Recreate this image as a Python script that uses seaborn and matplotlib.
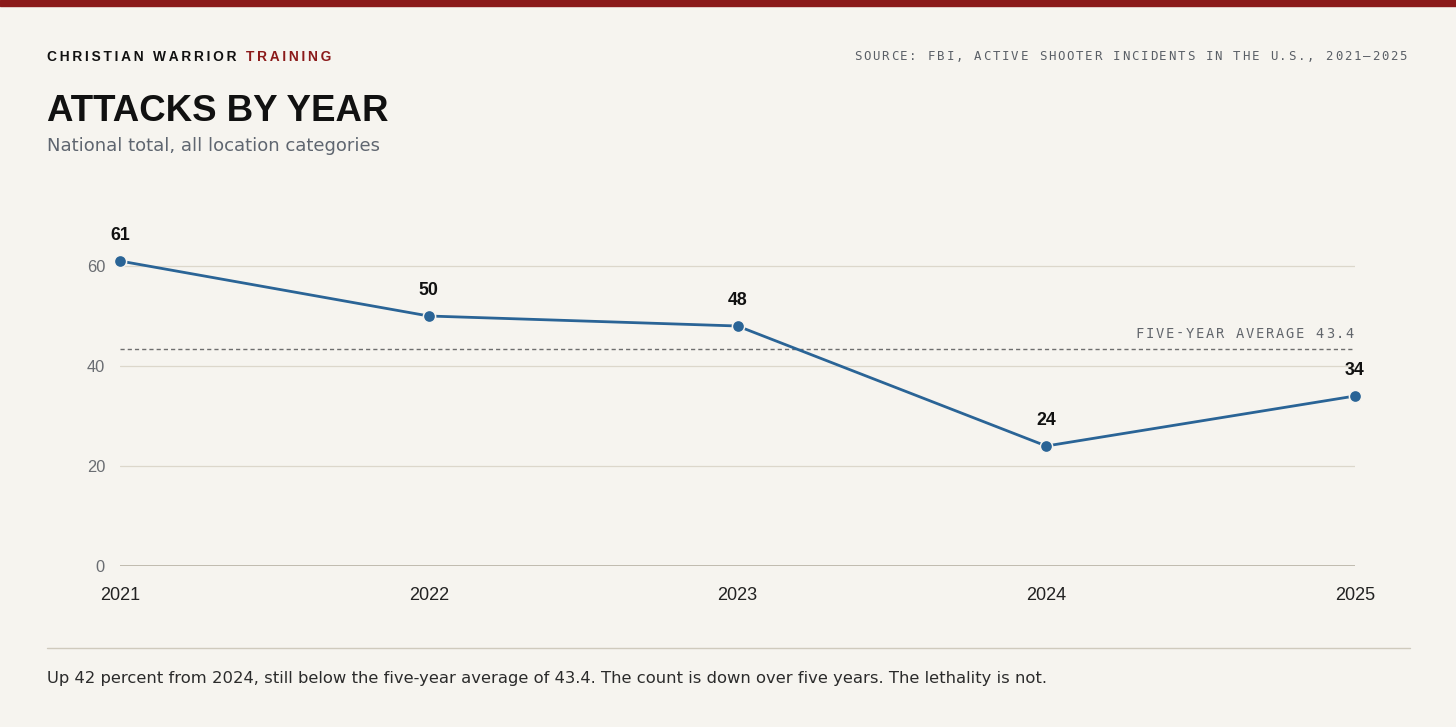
import matplotlib
matplotlib.use('Agg')
import matplotlib.pyplot as plt
import seaborn as sns
import pandas as pd
from matplotlib.transforms import IdentityTransform
from matplotlib.lines import Line2D
from matplotlib.patches import Rectangle
from matplotlib import font_manager
from matplotlib.ft2font import FT2Font

# ---- data ----
years = [2021, 2022, 2023, 2024, 2025]
attacks = [61, 50, 48, 24, 34]
avg_value = 43.4
y_ticks = [0, 20, 40, 60]
year_labels = ['2021', '2022', '2023', '2024', '2025']

kicker_black = 'CHRISTIAN WARRIOR '
kicker_red = 'TRAINING'
source_text = 'SOURCE: FBI, ACTIVE SHOOTER INCIDENTS IN THE U.S., 2021\u20132025'
title_text = 'ATTACKS BY YEAR'
subtitle_text = 'National total, all location categories'
avg_text = 'FIVE-YEAR AVERAGE 43.4'
footer_text = ('Up 42 percent from 2024, still below the five-year average of 43.4. '
               'The count is down over five years. The lethality is not.')

# ---- style ----
W, H = 1456, 727
DPI = 100
BG = '#f6f4ef'
RED = '#8b1a1a'
BLUE = '#2a6496'
sns.set_theme(style='white')
plt.rcParams['font.family'] = ['DejaVu Sans']

fig = plt.figure(figsize=(W / DPI, H / DPI), dpi=DPI, facecolor=BG)
ax = fig.add_axes([120 / W, 1 - 566 / H, (1355 - 120) / W, (566 - 216) / H])
ax.set_facecolor(BG)

df = pd.DataFrame({'year': years, 'attacks': attacks})
sns.lineplot(data=df, x='year', y='attacks', ax=ax, color=BLUE, linewidth=2.0,
             marker='o', markersize=8.8, markeredgecolor=BG, markeredgewidth=1.1,
             clip_on=False, zorder=5)

ax.set_xlim(years[0], years[-1])
ax.set_ylim(0, 70)
for yt in y_ticks[1:]:
    ax.axhline(yt, color='#dcd7cb', lw=0.9, zorder=1)
ax.axhline(0, color='#bcb7aa', lw=1.3, zorder=1)
ax.axhline(avg_value, color='#6e6e6e', lw=1.0, ls=(0, (3, 2.2)), zorder=2)

for s in ax.spines.values():
    s.set_visible(False)
ax.set_xticks(years)
ax.set_xticklabels(year_labels, family='Liberation Sans', fontsize=13, color='#222222')
ax.set_yticks(y_ticks)
ax.set_yticklabels([str(v) for v in y_ticks], family='Liberation Sans', fontsize=11.8, color='#6a6d72')
ax.tick_params(axis='x', length=0, pad=15)
ax.tick_params(axis='y', length=0, pad=10.8)
ax.set_xlabel('')
ax.set_ylabel('')
ax.grid(False)

for x, v in zip(years, attacks):
    ax.annotate(str(v), (x, v), xytext=(0, 18.4), textcoords='offset points',
                ha='center', va='center', family='Liberation Sans', fontweight='bold',
                fontsize=12.8, color='#111111', annotation_clip=False)

# ---- figure-level text ----
ID = IdentityTransform()
THIN = '\u2009'


def advances(s, family, size, weight='normal'):
    fp = font_manager.FontProperties(family=family, weight=weight)
    font = FT2Font(font_manager.findfont(fp))
    font.set_size(size, DPI)
    return [font.load_char(ord(c)).linearHoriAdvance / 65536.0 for c in s]


def spaced(s):
    # letter-spacing via thin spaces between characters
    return THIN.join(s)


def mono_tracked(x, y_base, s, pitch, ha='left', **kw):
    # monospace text with letter-spacing: one character per pitch
    glyph_w = advances('M', kw['family'], kw['fontsize'])[0]
    total = pitch * (len(s) - 1) + glyph_w
    if ha == 'right':
        x = x - total
    for i, c in enumerate(s):
        if c != ' ':
            fig.text(x + i * pitch, y_base, c, transform=ID, ha='left', va='baseline', **kw)


fig.patches.append(Rectangle((0, H - 6), W, 6, transform=ID, color=RED, zorder=10))

KS = 9.95
kick = dict(family=['Liberation Sans', 'DejaVu Sans'], fontweight='bold', fontsize=KS)
k1 = spaced(kicker_black.rstrip()) + THIN + ' ' + THIN
fig.text(47, H - 61, k1, transform=ID, ha='left', va='baseline', color='#111111', **kick)
k1_w = sum(advances(k1, 'Liberation Sans', KS, 'bold'))
fig.text(47 + k1_w, H - 61, spaced(kicker_red), transform=ID, ha='left', va='baseline',
         color=RED, **kick)

mono_tracked(1407, H - 60, source_text, 9.25, ha='right', family='DejaVu Sans Mono',
             fontsize=8.9, color='#5a5f66')

fig.text(47, H - 121, title_text, transform=ID, ha='left', va='baseline',
         family='Liberation Sans', fontweight='bold', fontsize=26.4, color='#111111')
fig.text(47, H - 151, subtitle_text, transform=ID, ha='left', va='baseline',
         family='DejaVu Sans', fontsize=13, color='#5f6670')

# average label anchored to the reference line
ax_right = ax.transData.transform((years[-1], avg_value))
mono_tracked(ax_right[0] - 1, ax_right[1] + 11.3, avg_text, 10, ha='right',
             family='DejaVu Sans Mono', fontsize=9.9, color='#62666c')

fig.lines.append(Line2D([47, 1410], [H - 648, H - 648], transform=ID, color='#cfcabd', lw=1))
fig.text(47, H - 683, footer_text, transform=ID, ha='left', va='baseline',
         family='DejaVu Sans', fontsize=11.8, color='#2b2b2b')

fig.savefig('out.png', dpi=DPI, facecolor=BG)
